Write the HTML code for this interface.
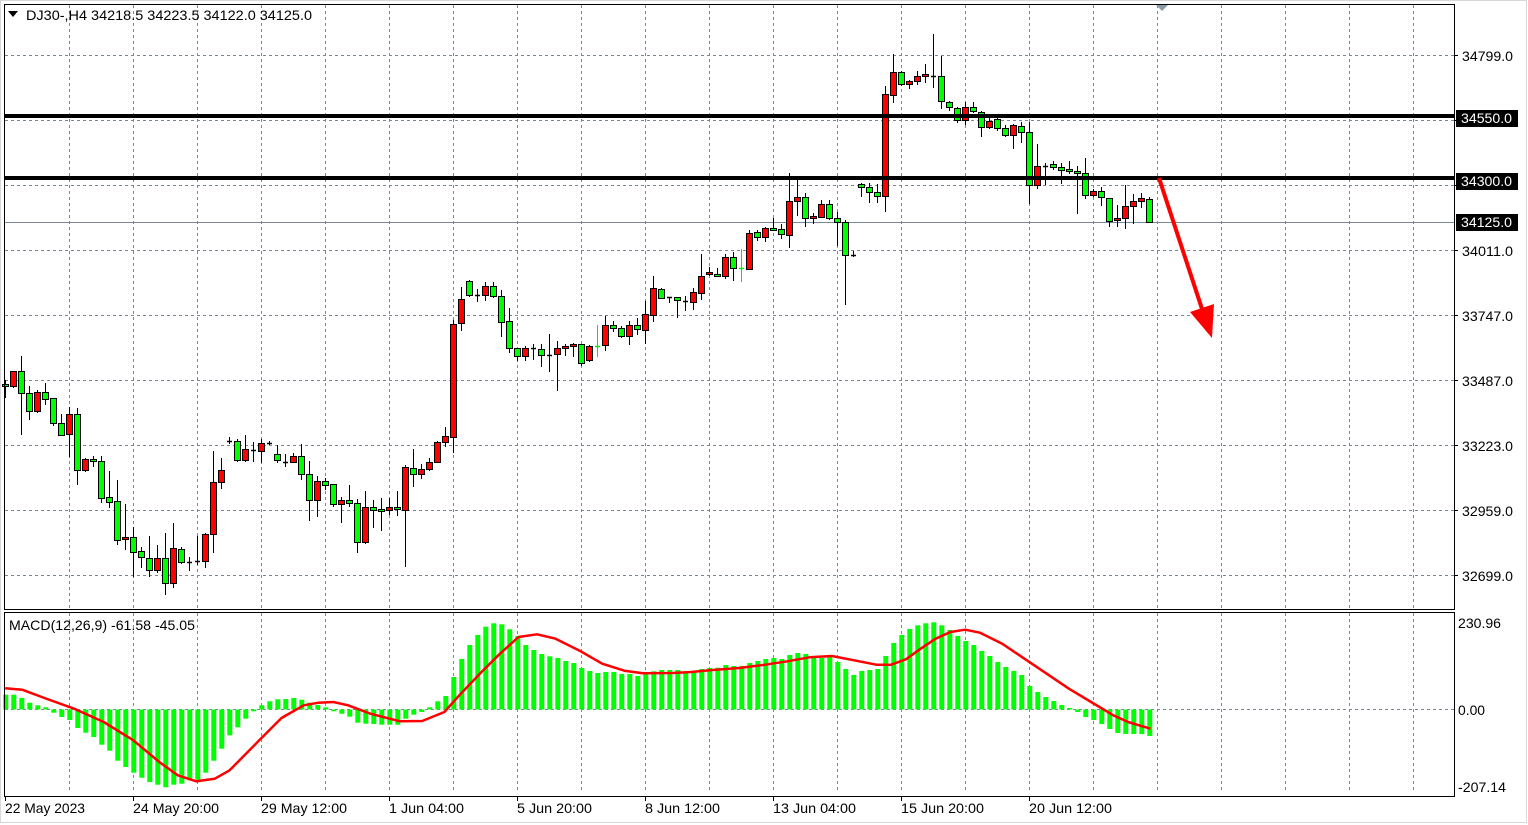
<!DOCTYPE html>
<html><head><meta charset="utf-8"><style>
html,body{margin:0;padding:0;background:#fff;}
svg{display:block;font-family:"Liberation Sans","DejaVu Sans",sans-serif;}
</style></head><body>
<svg id="s" width="1528" height="825" xmlns="http://www.w3.org/2000/svg"></svg>
<script>
const C=[
[384,386,380,398,'G'],[371,386,371,388,'R'],[371,393,356,435,'G'],[393,411,386,420,'G'],[392,411,390,413,'R'],
[392,399,383,405,'G'],[398,423,398,426,'G'],[423,435,414,435,'G'],[414,434,407,457,'R'],[414,470,408,485,'G'],
[459,470,458,472,'R'],[459,461,456,467,'G'],[461,498,456,503,'G'],[497,502,471,508,'G'],[501,540,480,545,'G'],
[537,539,504,550,'R'],[537,552,527,577,'G'],[551,557,547,568,'G'],[558,570,536,577,'G'],[558,570,545,573,'R'],
[558,583,533,595,'G'],[548,583,523,588,'R'],[549,562,547,564,'G'],[562,562,557,571,'D'],[561,561,536,565,'D'],
[534,561,533,568,'R'],[482,534,451,553,'R'],[470,482,458,489,'R'],[441,441,437,444,'D'],[441,460,439,462,'G'],
[449,460,435,462,'R'],[450,450,442,462,'D'],[443,451,439,463,'R'],[443,443,441,445,'D'],[454,460,445,463,'G'],
[462,462,454,467,'D'],[456,462,453,463,'R'],[456,474,444,480,'G'],[474,500,461,521,'G'],[481,500,476,517,'R'],
[481,485,478,490,'G'],[484,504,484,507,'G'],[500,504,497,523,'R'],[500,503,485,507,'G'],[503,542,499,553,'G'],
[507,542,491,544,'R'],[507,510,500,528,'G'],[509,511,498,531,'G'],[507,510,498,515,'R'],[507,509,491,516,'G'],
[467,510,465,567,'R'],[468,474,449,487,'G'],[469,474,464,479,'R'],[462,469,458,471,'R'],[442,462,441,463,'R'],
[436,442,427,447,'R'],[324,437,320,453,'R'],[299,323,287,331,'R'],[281,295,280,297,'G'],[295,295,289,302,'D'],
[286,295,282,301,'R'],[286,296,282,298,'G'],[296,322,290,337,'G'],[321,348,308,353,'G'],[348,356,348,361,'G'],
[348,356,346,361,'R'],[348,348,344,360,'D'],[349,355,344,367,'G'],[355,355,334,372,'D'],[348,354,341,391,'R'],
[346,348,344,356,'R'],[344,346,343,357,'R'],[344,363,344,366,'G'],[346,360,345,362,'R'],[346,346,325,357,'L'],
[325,345,316,351,'R'],[325,328,321,332,'G'],[328,336,326,338,'G'],[325,336,321,345,'R'],[325,329,318,335,'G'],
[314,330,301,344,'R'],[288,315,276,322,'R'],[289,298,288,299,'G'],[297,297,297,303,'D'],[297,300,297,318,'G'],
[301,301,296,311,'D'],[292,302,288,310,'R'],[276,293,254,300,'R'],[272,274,267,276,'R'],[274,275,268,277,'G'],
[257,276,254,279,'R'],[257,268,252,281,'G'],[268,268,249,282,'L'],[233,269,230,270,'R'],[232,237,230,241,'G'],
[228,237,227,242,'R'],[228,230,218,231,'G'],[229,234,224,239,'G'],[201,235,173,248,'R'],[197,201,180,216,'R'],
[197,218,193,227,'G'],[216,218,213,224,'R'],[204,217,200,218,'R'],[204,218,200,220,'G'],[218,222,212,246,'G'],
[222,255,220,305,'G'],[255,255,251,257,'D'],[184,187,183,197,'G'],[187,192,183,203,'G'],[192,196,184,203,'G'],
[94,196,86,212,'R'],[72,95,54,103,'R'],[72,84,71,86,'G'],[81,84,80,89,'R'],[76,81,71,85,'R'],
[74,76,64,83,'R'],[76,76,34,88,'D'],[76,101,56,109,'G'],[102,107,101,111,'G'],[108,120,107,123,'G'],
[107,120,102,125,'R'],[107,111,102,113,'G'],[112,127,111,137,'G'],[121,127,118,129,'R'],[119,128,117,131,'G'],
[128,135,125,137,'G'],[125,135,124,149,'R'],[126,132,122,143,'G'],[132,185,122,204,'G'],[166,185,144,189,'R'],
[166,166,163,185,'D'],[164,167,161,170,'G'],[167,170,163,184,'G'],[169,171,161,174,'G'],[171,173,166,214,'G'],
[173,195,158,199,'G'],[191,195,189,197,'R'],[191,197,187,206,'G'],[198,221,198,227,'G'],[218,220,205,227,'R'],
[206,218,185,229,'R'],[201,206,194,224,'R'],[198,201,193,208,'R'],[199,222,197,222,'G']
];
const H=[248,248,258,272,280,286,302,315,324,348,362,375,398,416,446,465,482,497,510,518,526,518,515,505,503,482,446,410,370,346,320,298,280,268,262,261,258,263,272,279,286,298,305,314,332,335,336,338,338,338,320,308,300,286,268,252,195,141,99,69,44,34,37,52,72,99,114,126,133,138,147,153,
168,177,183,180,180,186,186,192,181,178,174,174,174,180,180,171,168,167,159,162,162,153,147,141,138,141,129,123,126,132,138,135,150,171,189,177,174,171,132,93,69,51,40,34,31,40,54,72,87,99,117,132,150,165,177,189,222,240,255,267,279,288,300,315,324,336,351,363,366,366,366,372];
const S1=[[14,229],[60,233],[120,258],[200,290],[280,330],[360,385],[430,450],[480,490],[530,508],[580,500],[620,475],[700,385],[760,318],[820,280],[860,272],[900,270],[940,280],[1000,305],[1080,328],[1140,327],[1200,300],[1240,250],[1300,180],[1350,125],[1400,75],[1450,67],[1500,80],[1568,118]];
const S2=[[60,155],[120,176],[170,184],[250,183],[300,180],[350,175],[430,168],[500,158],[560,148],[620,136],[680,132],[740,145],[800,158],[840,158],[880,142],[920,110],[960,80],[1000,60],[1040,53],[1080,62],[1140,95],[1200,140],[1260,185],[1320,230],[1380,270],[1440,310],[1480,330],[1540,350]];
let o='';
const L=4.5,R=1454.5;
o+=`<rect x="0.5" y="0.5" width="1526" height="822" fill="none" stroke="#d8d8d8"/>`;
const gs='stroke="#778899" stroke-dasharray="3,3" stroke-width="1"';
for(let x=69.5;x<1454;x+=64){o+=`<line x1="${x}" y1="5" x2="${x}" y2="609" ${gs}/>`;o+=`<line x1="${x}" y1="613" x2="${x}" y2="793" ${gs}/>`;}
for(let y=55.5;y<600;y+=65){o+=`<line x1="5" y1="${y}" x2="1454" y2="${y}" ${gs}/><line x1="1454" y1="${y}" x2="1458" y2="${y}" stroke="#000"/>`;}
o+=`<line x1="5" y1="709.5" x2="1454" y2="709.5" ${gs}/>`;
o+=`<line x1="5" y1="222.5" x2="1454" y2="222.5" stroke="#778899"/>`;
C.forEach((c,i)=>{const x=Math.round(5.3+8*i);const cx=x+0.5;
 let wc=c[4]=='L'?'#00ee00':'#000';
 o+=`<line x1="${cx}" y1="${c[2]}" x2="${cx}" y2="${c[3]}" stroke="${wc}" stroke-width="1"/>`;
 if(c[4]=='D'||c[4]=='L'){o+=`<line x1="${x-2}" y1="${c[0]+0.5}" x2="${x+3}" y2="${c[0]+0.5}" stroke="${wc}" stroke-width="1.5"/>`;}
 else{o+=`<rect x="${x-2.5}" y="${c[0]+0.5}" width="6" height="${Math.max(2,c[1]-c[0])}" fill="${c[4]=='R'?'#ff0000':'#00ff00'}" stroke="#000" stroke-width="1"/>`;}
});
o+=`<rect x="5" y="114" width="1449" height="4" fill="#000"/><rect x="5" y="176" width="1449" height="4" fill="#000"/>`;
o+=`<line x1="1159" y1="178" x2="1204" y2="315" stroke="#ff0000" stroke-width="4"/>`;
o+=`<polygon points="1190,312 1214,304 1212,338" fill="#ff0000"/>`;
o+=`<polygon points="1156,5 1168,5 1162,11" fill="#8a9aaa"/>`;
H.forEach((t,i)=>{const x=5.3+8*i-2; const ty=612+t/3; const y0=709.5;
 const top=Math.min(ty,y0),h=Math.abs(ty-y0);
 if(h>0.3)o+=`<rect x="${x.toFixed(1)}" y="${top.toFixed(1)}" width="5" height="${h.toFixed(1)}" fill="#00ff00"/>`;});
let pts=S1.map(p=>[p[0]/2.7,612+p[1]/3]).concat(S2.map(p=>[580+p[0]/2.7,612+p[1]/3]));
pts.sort((a,b)=>a[0]-b[0]);
o+=`<polyline points="${pts.map(p=>p[0].toFixed(1)+','+p[1].toFixed(1)).join(' ')}" fill="none" stroke="#ff0000" stroke-width="2.5" stroke-linejoin="round"/>`;
o+=`<rect x="${L}" y="4.5" width="${R-L}" height="605" fill="none" stroke="#000"/>`;
o+=`<rect x="${L}" y="612.5" width="${R-L}" height="184" fill="none" stroke="#000"/>`;
o+=`<polygon points="8,11 18,11 13,17" fill="#000"/>`;
o+=`<text x="26" y="20" font-size="14" fill="#000" textLength="286" lengthAdjust="spacingAndGlyphs">DJ30-,H4  34218.5 34223.5 34122.0 34125.0</text>`;
o+=`<text x="9" y="630" font-size="14" fill="#000" textLength="186" lengthAdjust="spacingAndGlyphs">MACD(12,26,9) -61.58 -45.05</text>`;
const pl=[[56,'34799.0'],[251,'34011.0'],[316,'33747.0'],[381,'33487.0'],[446,'33223.0'],[511,'32959.0'],[576,'32699.0']];
const PT=(x,y,t,c)=>`<text x="${x}" y="${y}" font-size="14" fill="${c}" textLength="51" lengthAdjust="spacingAndGlyphs">${t}</text>`;
pl.forEach(p=>o+=PT(1462,p[0]+5,p[1],'#000'));
[[118,'34550.0'],[181,'34300.0'],[222,'34125.0']].forEach(p=>{o+=`<rect x="1456" y="${p[0]-8}" width="62" height="17" fill="#000"/>`+PT(1461,p[0]+5,p[1],'#fff');});
[[623,'230.96',43],[710,'0.00',27],[787,'-207.14',48]].forEach(p=>o+=`<text x="1458" y="${p[0]+5}" font-size="14" fill="#000" textLength="${p[2]}" lengthAdjust="spacingAndGlyphs">${p[1]}</text>`);
const DW=[80,86,86,75,75,75,83,83,83];
['22 May 2023','24 May 20:00','29 May 12:00','1 Jun 04:00','5 Jun 20:00','8 Jun 12:00','13 Jun 04:00','15 Jun 20:00','20 Jun 12:00'].forEach((d,k)=>{
 const x=5+128*k; o+=`<text x="${x}" y="813" font-size="14" fill="#000" textLength="${DW[k]}" lengthAdjust="spacingAndGlyphs">${d}</text>`; o+=`<line x1="${5.5+128*k}" y1="797" x2="${5.5+128*k}" y2="801" stroke="#000"/>`;});
document.getElementById('s').innerHTML=o;
</script>
</body></html>
